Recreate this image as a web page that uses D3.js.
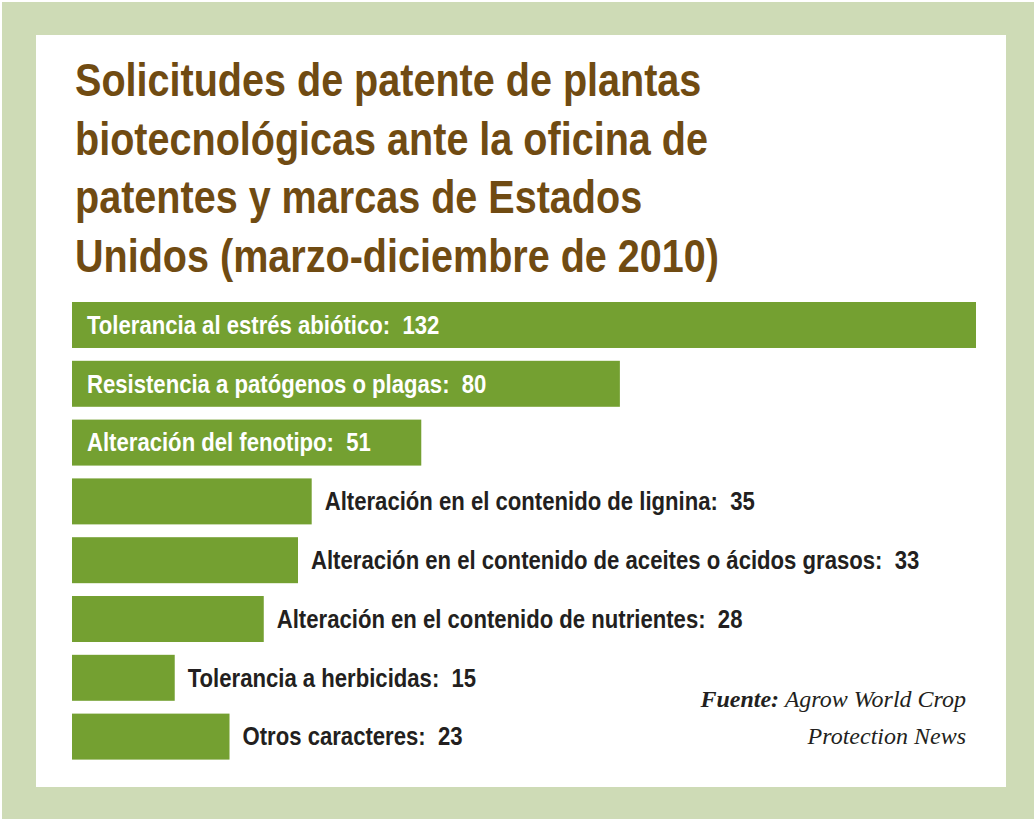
<!DOCTYPE html>
<html>
<head>
<meta charset="utf-8">
<script src="https://cdn.jsdelivr.net/npm/d3@7"></script>
<style>
  html, body { margin: 0; padding: 0; background: #ffffff; }
  svg { display: block; }
  text { white-space: pre; }
</style>
</head>
<body>
<svg id="chart" width="1034" height="819"></svg>
<script>
const titleLines = [
  "Solicitudes de patente de plantas",
  "biotecnológicas ante la oficina de",
  "patentes y marcas de Estados",
  "Unidos (marzo-diciembre de 2010)"
];
const categories = [
  "Tolerancia al estrés abiótico",
  "Resistencia a patógenos o plagas",
  "Alteración del fenotipo",
  "Alteración en el contenido de lignina",
  "Alteración en el contenido de aceites o ácidos grasos",
  "Alteración en el contenido de nutrientes",
  "Tolerancia a herbicidas",
  "Otros caracteres"
];
const values = [132, 80, 51, 35, 33, 28, 15, 23];
const sourceBold = "Fuente:";
const sourceLine1 = " Agrow World Crop";
const sourceLine2 = "Protection News";

const svg = d3.select("#chart");
const W = 1034, H = 819;
const sans = "'Liberation Sans', Arial, sans-serif";

svg.append("rect").attr("x", 2).attr("y", 2).attr("width", W - 2).attr("height", H - 2).attr("fill", "#cedbb6");
svg.append("rect").attr("x", 36).attr("y", 35).attr("width", 970).attr("height", 752).attr("fill", "#ffffff");

// title
titleLines.forEach((t, i) => {
  svg.append("text")
    .attr("transform", `translate(75,${96 + i * 58.6}) scale(0.86,1)`)
    .attr("font-family", sans)
    .attr("font-weight", "bold")
    .attr("font-size", 46)
    .attr("fill", "#704b12")
    .text(t);
});

const x = d3.scaleLinear().domain([0, 132]).range([72, 976]);
const y = d3.scaleBand().domain(categories).range([302, 759.6]).paddingInner(0.218).paddingOuter(0).align(0);

const data = categories.map((c, i) => ({ c, v: values[i], inside: i < 3 }));

svg.append("g").selectAll("rect").data(data).join("rect")
  .attr("x", x(0))
  .attr("y", d => y(d.c))
  .attr("width", d => x(d.v) - x(0))
  .attr("height", y.bandwidth())
  .attr("fill", "#74a031");

svg.append("g").selectAll("text").data(data).join("text")
  .attr("transform", d => `translate(${d.inside ? x(0) + 15 : x(d.v) + 13},${y(d.c) + y.bandwidth() / 2 + 8.8}) scale(0.885,1)`)
  .attr("font-family", sans)
  .attr("font-weight", "bold")
  .attr("font-size", 25)
  .attr("fill", d => d.inside ? "#ffffff" : "#231f20")
  .text(d => d.c + ":  " + d.v);

// source
const serif = "'Liberation Serif', 'DejaVu Serif', serif";
const s1 = svg.append("text")
  .attr("x", 966).attr("y", 707)
  .attr("text-anchor", "end")
  .attr("font-family", serif)
  .attr("font-style", "italic")
  .attr("font-size", 24)
  .attr("fill", "#231f20");
s1.append("tspan").attr("font-weight", "bold").text(sourceBold);
s1.append("tspan").text(sourceLine1);
svg.append("text")
  .attr("x", 966).attr("y", 744)
  .attr("text-anchor", "end")
  .attr("font-family", serif)
  .attr("font-style", "italic")
  .attr("font-size", 24)
  .attr("fill", "#231f20")
  .text(sourceLine2);
</script>
</body>
</html>
